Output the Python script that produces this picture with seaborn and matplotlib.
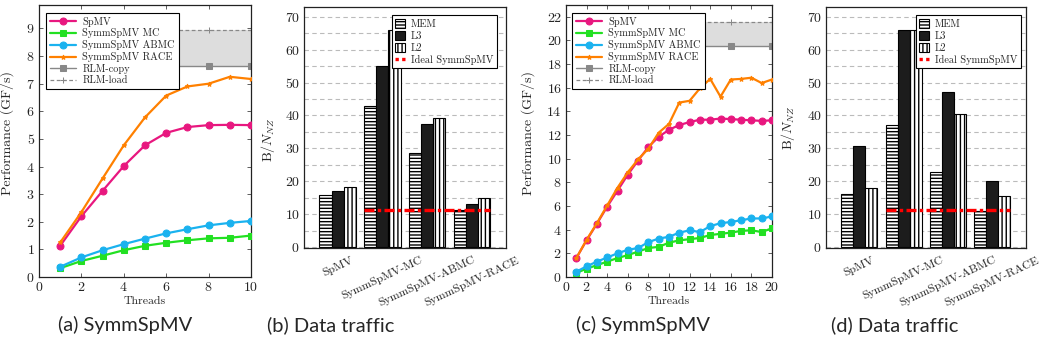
import numpy as np
import pandas as pd
import matplotlib
matplotlib.use("Agg")
import matplotlib.pyplot as plt
from matplotlib.patches import Patch
from matplotlib.lines import Line2D
from matplotlib.ticker import MultipleLocator
import seaborn as sns

sns.set_style("ticks")
plt.rcParams["font.family"] = ["cmr10", "DejaVu Serif"]
plt.rcParams["mathtext.fontset"] = "cm"
plt.rcParams["axes.formatter.use_mathtext"] = True
plt.rcParams["hatch.linewidth"] = 1.0

# ---------------- performance data (GF/s) ----------------
threads_a = [1, 2, 3, 4, 5, 6, 7, 8, 9, 10]
spmv_a = [1.13, 2.20, 3.12, 4.02, 4.77, 5.22, 5.43, 5.50, 5.51, 5.50]
mc_a = [0.32, 0.58, 0.77, 0.97, 1.13, 1.24, 1.33, 1.40, 1.42, 1.50]
abmc_a = [0.37, 0.71, 0.97, 1.19, 1.39, 1.58, 1.73, 1.87, 1.96, 2.03]
race_a = [1.25, 2.35, 3.57, 4.77, 5.78, 6.57, 6.90, 7.00, 7.25, 7.17]
rlm_copy_a = 7.64
rlm_load_a = 8.95

threads_c = list(range(1, 21))
spmv_c = [1.6, 3.1, 4.5, 5.95, 7.3, 8.65, 9.85, 11.0, 11.85, 12.45,
          12.85, 13.1, 13.3, 13.3, 13.4, 13.35, 13.3, 13.25, 13.2, 13.25]
mc_c = [0.35, 0.7, 1.0, 1.3, 1.6, 1.85, 2.15, 2.45, 2.55, 2.9,
        3.1, 3.2, 3.3, 3.55, 3.65, 3.75, 3.9, 3.95, 3.8, 4.12]
abmc_c = [0.45, 0.9, 1.3, 1.65, 2.0, 2.3, 2.45, 2.95, 3.25, 3.4,
          3.75, 3.95, 3.8, 4.3, 4.55, 4.65, 4.8, 4.95, 4.95, 5.12]
race_c = [1.6, 3.15, 4.55, 6.05, 7.55, 8.85, 9.95, 10.85, 12.2, 12.95,
          14.75, 14.9, 15.95, 16.75, 15.25, 16.7, 16.75, 16.85, 16.4, 16.7]
rlm_copy_c = 19.5
rlm_load_c = 21.55

# ---------------- data traffic (bytes per nonzero) ----------------
kernels = ["SpMV", "SymmSpMV-MC", "SymmSpMV-ABMC", "SymmSpMV-RACE"]
levels = ["MEM", "L3", "L2"]
mem_b = [15.9, 43.0, 28.5, 11.2]
l3_b = [17.1, 55.0, 37.4, 13.0]
l2_b = [18.2, 66.1, 39.3, 14.8]
mem_d = [16.0, 37.1, 22.8, 11.0]
l3_d = [30.6, 66.1, 47.0, 20.1]
l2_d = [18.0, 66.1, 40.5, 15.4]
ideal_symm = 11.2

C_SPMV = "#e8177f"
C_MC = "#22e022"
C_ABMC = "#1ab2ef"
C_RACE = "#ff8000"
C_RLM = "#888888"

W, H = 1048, 350
fig = plt.figure(figsize=(W / 100, H / 100), dpi=100)


def box(l, r, t, b):
    return [l / W, 1 - b / H, (r - l) / W, (b - t) / H]


def perf_panel(ax, threads, spmv, mc, abmc, race, rcopy, rload, step, ymax, rlm_every):
    n = len(threads)
    ax.fill_between(threads, [rcopy] * n, [rload] * n, color="#dddddd", lw=0, zorder=1)
    series = [
        ("SpMV", spmv, C_SPMV, "o", 5),
        ("SymmSpMV MC", mc, C_MC, "s", 5),
        ("SymmSpMV ABMC", abmc, C_ABMC, "o", 5),
        ("SymmSpMV RACE", race, C_RACE, "*", 3.5),
    ]
    for name, vals, col, mk, ms in series:
        sns.lineplot(x=threads, y=vals, ax=ax, color=col, marker=mk, markersize=ms,
                     markeredgecolor=col, linewidth=1.6, label=name, zorder=3)
    sns.lineplot(x=threads, y=[rcopy] * n, ax=ax, color=C_RLM, marker="s", markersize=5,
                 markeredgecolor=C_RLM, markevery=rlm_every, linewidth=1.0,
                 label="RLM-copy", zorder=2)
    sns.lineplot(x=threads, y=[rload] * n, ax=ax, color=C_RLM, marker="+", markersize=4,
                 markeredgecolor=C_RLM, markevery=rlm_every, linewidth=0.9,
                 linestyle=(0, (3, 2)), label="RLM-load", zorder=2)
    ax.set_xlim(0, threads[-1])
    ax.set_ylim(0, ymax)
    ax.xaxis.set_major_locator(MultipleLocator(step))
    ax.yaxis.set_major_locator(MultipleLocator(1 if ymax < 12 else 2))
    ax.tick_params(direction="in", top=True, right=True, length=3, width=0.6,
                   labelsize=10, pad=3, color="#444444")
    ax.set_xlabel("Threads", fontsize=8.5, labelpad=2)
    ax.set_ylabel("Performance (GF/s)", fontsize=10)
    for s in ax.spines.values():
        s.set_linewidth(0.9)
        s.set_color("#222222")
    return ax


def traffic_panel(ax, mem, l3, l2):
    df = pd.DataFrame({
        "kernel": kernels * 3,
        "level": [lv for lv in levels for _ in kernels],
        "value": mem + l3 + l2,
    })
    sns.barplot(data=df, x="kernel", y="value", hue="level", order=kernels,
                hue_order=levels, palette=["white", "#1c1c1c", "white"],
                saturation=1, edgecolor="black", linewidth=0.8, width=0.81,
                errorbar=None, legend=False, ax=ax, zorder=2)
    hatches = ["-----", None, "||||"]
    for cont, h in zip(ax.containers, hatches):
        for p in cont:
            if h:
                p.set_hatch(h)
    half = 0.405
    ax.hlines(ideal_symm, 1 - half, len(kernels) - 1 + half, colors="red",
              linewidth=2.4, linestyles=(0, (3, 1, 1, 1)), zorder=4)
    ax.set_xlim(-0.75, 3.76)
    ax.set_ylim(-0.3, 73.0)
    ax.yaxis.set_major_locator(MultipleLocator(10))
    ax.yaxis.set_minor_locator(MultipleLocator(5))
    ax.grid(True, which="both", axis="y", linestyle=(0, (4, 3)), color="#bbbbbb", lw=0.8)
    ax.set_axisbelow(True)
    ax.tick_params(axis="y", which="both", length=0, labelsize=10, pad=3)
    ax.tick_params(axis="x", length=0, labelsize=8.5, pad=5)
    for lab in ax.get_xticklabels():
        lab.set_rotation(25)
        lab.set_ha("center")
    ax.set_xlabel("")
    ax.set_ylabel(r"B/$N_{NZ}$", fontsize=10)
    for s in ax.spines.values():
        s.set_linewidth(0.9)
        s.set_color("#222222")
    handles = [
        Patch(facecolor="white", edgecolor="black", hatch="-----", lw=0.8),
        Patch(facecolor="#1c1c1c", edgecolor="black", lw=0.8),
        Patch(facecolor="white", edgecolor="black", hatch="||||", lw=0.8),
        Line2D([], [], color="red", lw=2.4, linestyle=(0, (1, 1))),
    ]
    return handles


def legend_box(ax, handles=None, labels=None, **kw):
    args = (handles, labels) if handles is not None else ()
    leg = ax.legend(*args, frameon=True, fancybox=False, framealpha=1, fontsize=7.4,
                    borderaxespad=0, borderpad=0.35, labelspacing=0.18,
                    handletextpad=0.6, **kw)
    leg.get_frame().set_edgecolor("black")
    leg.get_frame().set_linewidth(0.8)
    leg.set_zorder(10)
    return leg


# (a)
ax_a = fig.add_axes(box(39, 251, 5, 277))
perf_panel(ax_a, threads_a, spmv_a, mc_a, abmc_a, race_a, rlm_copy_a, rlm_load_a,
           2, 9.85, slice(1, None, 2))
legend_box(ax_a, loc="upper left", bbox_to_anchor=(7 / 212, 1 - 8 / 272), handlelength=2.6)
ax_a.yaxis.set_label_coords(-0.118, 0.53)

# (b)
ax_b = fig.add_axes(box(304, 506, 7, 248))
hb = traffic_panel(ax_b, mem_b, l3_b, l2_b)
legend_box(ax_b, hb, levels + ["Ideal SymmSpMV"], loc="upper right",
           bbox_to_anchor=(1 - 9 / 202, 1 - 8 / 241), handlelength=0.9, handleheight=1.0)
ax_b.yaxis.set_label_coords(-0.134, 0.45)

# (c)
ax_c = fig.add_axes(box(566, 772, 5, 277))
perf_panel(ax_c, threads_c, spmv_c, mc_c, abmc_c, race_c, rlm_copy_c, rlm_load_c,
           2, 23.0, slice(3, None, 4))
legend_box(ax_c, loc="upper left", bbox_to_anchor=(6 / 206, 1 - 8 / 272), handlelength=2.6)
ax_c.yaxis.set_label_coords(-0.15, 0.53)

# (d)
ax_d = fig.add_axes(box(826, 1026, 7, 248))
hd = traffic_panel(ax_d, mem_d, l3_d, l2_d)
legend_box(ax_d, hd, levels + ["Ideal SymmSpMV"], loc="upper right",
           bbox_to_anchor=(1 - 5 / 200, 1 - 8 / 241), handlelength=0.9, handleheight=1.0)
ax_d.yaxis.set_label_coords(-0.145, 0.5)

# sub-captions
captions = ["(a) SymmSpMV", "(b) Data traffic", "(c) SymmSpMV", "(d) Data traffic"]
cap_x = [125, 331, 643, 895]
for cx, txt in zip(cap_x, captions):
    fig.text(cx / W, 1 - 325 / H, txt, ha="center", va="center", fontsize=14.5,
             family=["Lato", "DejaVu Sans"])

fig.savefig("out.png", dpi=100)
